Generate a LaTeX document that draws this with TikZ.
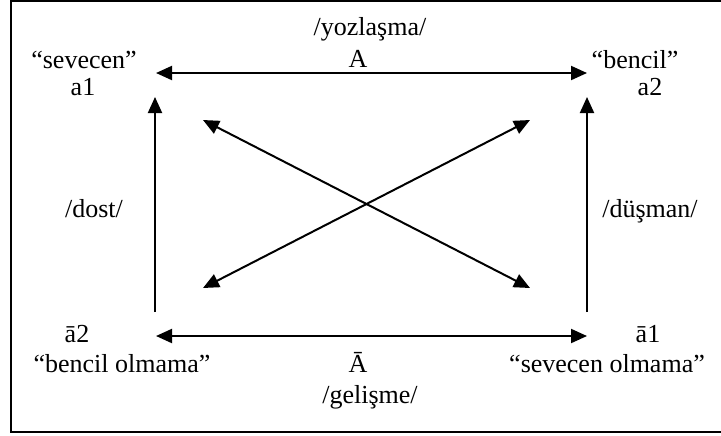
\documentclass[tikz,border=0pt]{standalone}
\usepackage{fontspec}
\setmainfont{Liberation Serif}
\usetikzlibrary{arrows.meta,positioning}

\begin{document}
\begin{tikzpicture}[x=0.5pt, y=-0.5pt,
    lbl/.style={font=\fontsize{13}{15}\selectfont, inner sep=0pt, anchor=base},
    twoway/.style={{Triangle[length=8pt,width=7pt]}-{Triangle[length=8pt,width=7pt]}, line width=1pt},
    oneway/.style={-{Triangle[length=8pt,width=7pt]}, line width=1pt},
    frameline/.style={line width=0.9pt}
]
    \useasboundingbox (0,0) rectangle (721,435);
    \draw[frameline] (721,1) -- (11,1) -- (11,432) -- (721,432);

    % corners of the square
    \coordinate (tl) at (156,73);
    \coordinate (tr) at (587,73);
    \coordinate (bl) at (156,336);
    \coordinate (br) at (587,336);
    \coordinate (lup) at (155,97);
    \coordinate (llow) at (155,312);
    \coordinate (rup) at (587,97);
    \coordinate (rlow) at (587,312);
    \coordinate (dtl) at (203,120);
    \coordinate (dtr) at (530,120);
    \coordinate (dbl) at (203,288);
    \coordinate (dbr) at (530,288);

    % labels
    \node[lbl] (sev) at (84,68) {“sevecen”};
    \node[lbl] (a1) at (83,95) {a1};
    \node[lbl] (ben) at (635,68) {“bencil”};
    \node[lbl] (a2) at (650,95) {a2};
    \node[lbl] (yoz) at (370,35) {/yozlaşma/};
    \node[lbl] (A) at (358,67) {A};
    \node[lbl] (dost) at (94,217) {/dost/};
    \node[lbl] (dus) at (650,217) {/düşman/};
    \node[lbl] (na2) at (77,342) {ā2};
    \node[lbl] (benol) at (122,372) {“bencil olmama”};
    \node[lbl] (na1) at (648,342) {ā1};
    \node[lbl] (sevol) at (607,372) {“sevecen olmama”};
    \node[lbl] (nA) at (358,372) {Ā};
    \node[lbl] (gel) at (370,403) {/gelişme/};

    \draw[twoway] (tl) -- (tr);
    \draw[twoway] (bl) -- (br);
    \draw[oneway] (llow) -- (lup);
    \draw[oneway] (rlow) -- (rup);
    \draw[twoway] (dtl) -- (dbr);
    \draw[twoway] (dtr) -- (dbl);
\end{tikzpicture}
\end{document}
